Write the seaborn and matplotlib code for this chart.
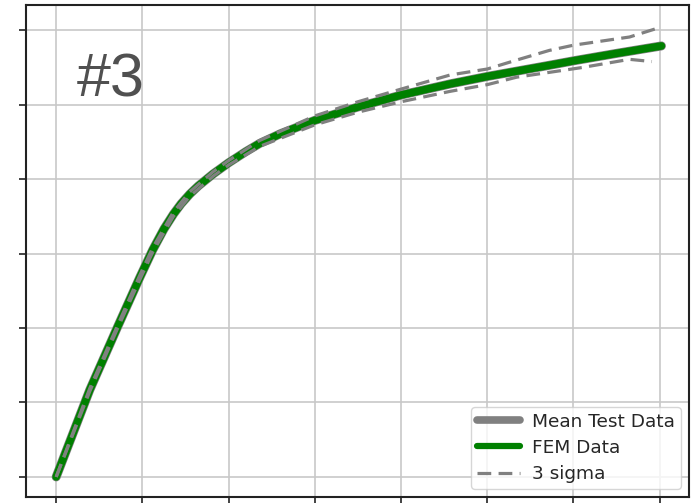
import matplotlib
matplotlib.use("Agg")
import matplotlib.pyplot as plt
import seaborn as sns
import pandas as pd

# Mean test data / FEM data (shared abscissa)
x_curve = [0, 0.39, 0.71, 0.97, 1.12, 1.25, 1.36, 1.45, 1.55, 1.65, 1.82, 2.0, 2.2, 2.36,
           2.6, 3.0, 3.5, 4.0, 4.57, 5.0, 5.72, 6.0, 6.5, 7.02]
mean_test = [0, 1.17, 2.01, 2.68, 3.05, 3.33, 3.53, 3.67, 3.80, 3.91, 4.07, 4.22, 4.37, 4.48,
             4.61, 4.79, 4.97, 5.13, 5.28, 5.38, 5.53, 5.59, 5.69, 5.79]
fem_data = [0, 1.17, 2.01, 2.68, 3.05, 3.33, 3.53, 3.67, 3.80, 3.91, 4.07, 4.22, 4.37, 4.48,
            4.61, 4.79, 4.97, 5.13, 5.28, 5.38, 5.53, 5.59, 5.69, 5.79]

# 3 sigma bands
x_upper = [0, 0.39, 0.71, 0.97, 1.12, 1.36, 1.55, 1.82, 2.0, 2.36, 3.0, 3.5, 4.0, 4.57,
           5.0, 5.34, 5.72, 6.0, 6.65, 6.98]
y_upper = [0, 1.19, 2.03, 2.71, 3.08, 3.56, 3.83, 4.10, 4.25, 4.52, 4.85, 5.04, 5.21, 5.40,
           5.48, 5.60, 5.73, 5.80, 5.91, 6.03]
x_lower = [0, 0.39, 0.71, 0.97, 1.12, 1.36, 1.55, 1.82, 2.0, 2.36, 3.0, 3.5, 4.0, 4.57,
           5.0, 5.34, 6.1, 6.65, 6.91]
y_lower = [0, 1.15, 1.99, 2.65, 3.02, 3.50, 3.77, 4.04, 4.19, 4.44, 4.73, 4.90, 5.04, 5.18,
           5.27, 5.37, 5.50, 5.61, 5.58]

x_ticks = [0, 1, 2, 3, 4, 5, 6, 7]
y_ticks = [0, 1, 2, 3, 4, 5, 6]

sns.set_style("whitegrid")
plt.rcParams['font.family'] = ['DejaVu Sans']

fig = plt.figure(figsize=(6.93, 5.03), dpi=100)
ax = fig.add_axes([26/693, 1 - 497/503, (689 - 26)/693, (497 - 5)/503])

df_c = pd.DataFrame({"x": x_curve, "mean": mean_test, "fem": fem_data})
df_u = pd.DataFrame({"x": x_upper, "y": y_upper})
df_l = pd.DataFrame({"x": x_lower, "y": y_lower})

dash = (0, (4.3, 2.3))
sns.lineplot(data=df_c, x="x", y="mean", ax=ax, color="#808080", lw=6.5,
             sort=False, label="Mean Test Data")
sns.lineplot(data=df_c, x="x", y="fem", ax=ax, color="#008000", lw=5.5,
             sort=False, label="FEM Data")
sns.lineplot(data=df_u, x="x", y="y", ax=ax, color="#808080", lw=2.3,
             sort=False, label="3 sigma", linestyle=dash)
sns.lineplot(data=df_l, x="x", y="y", ax=ax, color="#808080", lw=2.3,
             sort=False, linestyle=dash)

ax.set_xlim(-0.35, 7.34)
ax.set_ylim(-0.27, 6.34)
ax.set_xticks(x_ticks)
ax.set_yticks(y_ticks)
ax.set_xticklabels([])
ax.set_yticklabels([])
ax.set_xlabel("")
ax.set_ylabel("")
ax.grid(True, color="#c8c8c8", lw=1.2)
for s in ax.spines.values():
    s.set_visible(True)
    s.set_color("#222222")
    s.set_linewidth(1.5)
ax.tick_params(axis="both", which="major", direction="out", length=5, width=1.2,
               color="#222222", bottom=True, left=True)

ax.text(0.077, 0.815, "#3", transform=ax.transAxes, fontsize=44,
        color="#505050", family=["Liberation Sans", "DejaVu Sans"])

leg = ax.legend(loc="lower right", fontsize=13.3, frameon=True, handlelength=2.35,
                handletextpad=0.65, borderpad=0.3, labelspacing=0.45,
                borderaxespad=0.45, facecolor="white",
                edgecolor="#cccccc", framealpha=0.8)
for h, w in zip(leg.get_lines(), [5.5, 4.5, 2.3]):
    h.set_linewidth(w)

fig.savefig("out.png", dpi=100)
